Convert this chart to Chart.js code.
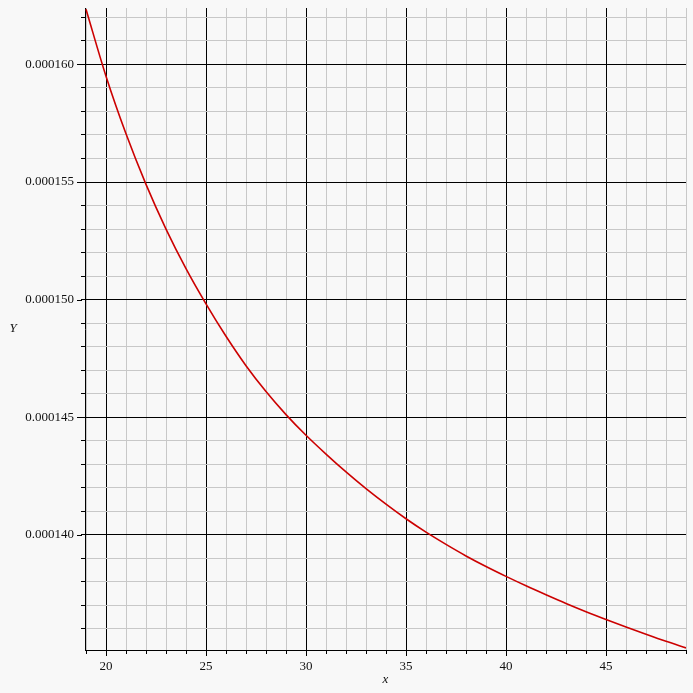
<!DOCTYPE html>
<html>
<head>
<meta charset="utf-8">
<script src="https://cdn.jsdelivr.net/npm/chart.js@4.4.0/dist/chart.umd.min.js"></script>
<style>
  html, body { margin: 0; padding: 0; background: #f8f8f8; }
  canvas { display: block; }
</style>
</head>
<body>
<canvas id="chart" width="693" height="693"></canvas>
<script>
const xValues = [19, 20, 21, 22, 23, 24, 25, 26, 27, 28, 29, 30, 31, 32, 33, 34,
  35, 36, 37, 38, 39, 40, 41, 42, 43, 44, 45, 46, 47, 48, 49];
const yValues = [
  0.00016235, 0.00015950, 0.00015705, 0.00015490, 0.00015300, 0.00015132, 0.00014982,
  0.00014844, 0.00014719, 0.00014609, 0.00014511, 0.00014423, 0.00014343, 0.00014267,
  0.00014196, 0.00014130, 0.00014068, 0.00014011, 0.00013959, 0.00013910, 0.00013865,
  0.00013823, 0.00013783, 0.00013745, 0.00013708, 0.00013673, 0.00013640, 0.00013608,
  0.00013577, 0.00013547, 0.00013519,
];
const xTickLabels = ['20', '25', '30', '35', '40', '45'];
const yTickLabels = ['0.000140', '0.000145', '0.000150', '0.000155', '0.000160'];
const xRange = [18.95, 49];
const yRange = [0.0001351, 0.0001624];
const xStep = 1;
const yStep = 0.000001;

const serif = '"Liberation Serif", "DejaVu Serif", serif';

// one tick per minor step, majors are the ones that carry a label
function buildTicks(scale, step, labels, digits) {
  const ticks = [];
  const first = Math.ceil(scale.min / step - 1e-9);
  const last = Math.floor(scale.max / step + 1e-9);
  for (let k = first; k <= last; k++) {
    const value = k * step;
    const text = value.toFixed(digits);
    ticks.push({ value, isMajor: labels.includes(text), text });
  }
  scale.ticks = ticks;
}

function gridColor(ctx) {
  return ctx.tick && ctx.tick.isMajor ? '#000000' : '#c8c8c8';
}

function noPadding(scale) {
  scale.paddingTop = 0;
  scale.paddingBottom = 0;
  scale.paddingLeft = 0;
  scale.paddingRight = 0;
}

const axisExtras = {
  id: 'axisExtras',
  afterDraw(chart) {
    const { ctx, chartArea, scales } = chart;
    ctx.save();
    ctx.strokeStyle = '#000';
    ctx.lineWidth = 1;

    scales.y.ticks.forEach(t => {
      if (!t.isMajor) return;
      const py = Math.round(scales.y.getPixelForValue(t.value)) + 0.5;
      ctx.beginPath();
      ctx.moveTo(chartArea.left - 8, py);
      ctx.lineTo(chartArea.left - 3, py);
      ctx.stroke();
    });

    scales.x.ticks.forEach(t => {
      if (!t.isMajor) return;
      const px = Math.round(scales.x.getPixelForValue(t.value)) + 0.5;
      ctx.beginPath();
      ctx.moveTo(px, chartArea.bottom + 3);
      ctx.lineTo(px, chartArea.bottom + 6);
      ctx.stroke();
    });

    ctx.fillStyle = '#111';
    ctx.font = 'italic 13px ' + serif;
    ctx.textAlign = 'center';
    ctx.textBaseline = 'middle';
    ctx.fillText('x', (chartArea.left + chartArea.right) / 2, 680);
    ctx.fillText('Y', 13, (chartArea.top + chartArea.bottom) / 2);
    ctx.restore();
  },
};

new Chart(document.getElementById('chart').getContext('2d'), {
  type: 'line',
  data: {
    datasets: [
      {
        data: xValues.map((x, i) => ({ x, y: yValues[i] })),
        borderColor: '#cc0000',
        borderWidth: 1.6,
        pointRadius: 0,
        cubicInterpolationMode: 'monotone',
      },
    ],
  },
  options: {
    responsive: false,
    animation: false,
    layout: { padding: { top: 8, right: 7, left: 0, bottom: 0 } },
    plugins: { legend: { display: false }, tooltip: { enabled: false } },
    scales: {
      x: {
        type: 'linear',
        min: xRange[0],
        max: xRange[1],
        afterBuildTicks: scale => buildTicks(scale, xStep, xTickLabels, 0),
        afterFit: scale => { scale.height = 43; noPadding(scale); },
        border: { color: '#000', width: 1 },
        grid: { color: gridColor, lineWidth: 1, tickLength: 4, tickColor: '#000' },
        ticks: {
          autoSkip: false,
          maxRotation: 0,
          padding: 5,
          color: '#111',
          font: { family: serif, size: 13 },
          callback: (value, index, ticks) => (ticks[index].isMajor ? ticks[index].text : ''),
        },
      },
      y: {
        type: 'linear',
        min: yRange[0],
        max: yRange[1],
        afterBuildTicks: scale => buildTicks(scale, yStep, yTickLabels, 6),
        afterFit: scale => { scale.width = 85; noPadding(scale); },
        border: { color: '#000', width: 1 },
        grid: { color: gridColor, lineWidth: 1, tickLength: 4, tickColor: '#000' },
        ticks: {
          autoSkip: false,
          padding: 7,
          color: '#111',
          font: { family: serif, size: 13 },
          callback: (value, index, ticks) => (ticks[index].isMajor ? ticks[index].text : ''),
        },
      },
    },
  },
  plugins: [axisExtras],
});
</script>
</body>
</html>
